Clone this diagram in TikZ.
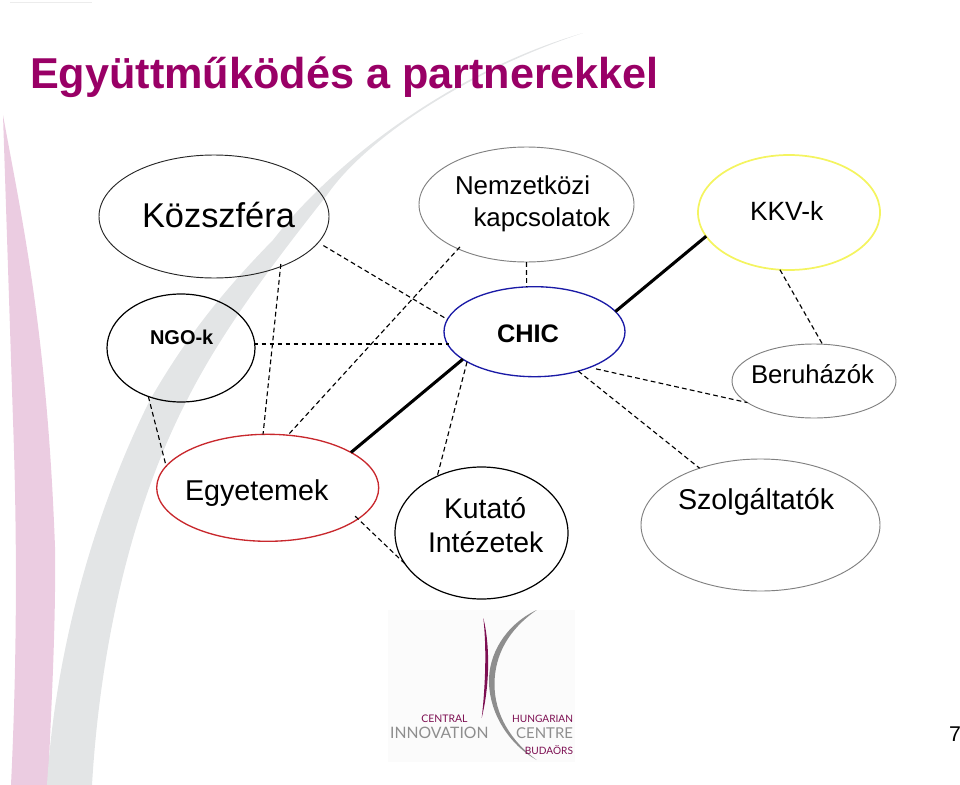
\documentclass[tikz,border=0pt]{standalone}
\usepackage{fontspec}
\setmainfont{Liberation Sans}
\newfontfamily\logofont{Lato}
\usetikzlibrary{shapes.geometric}
\definecolor{titlepurple}{HTML}{990066}
\definecolor{bandpink}{HTML}{EBCCE1}
\definecolor{bandgray}{HTML}{E3E5E6}
\definecolor{logomaroon}{HTML}{7D0F52}
\definecolor{logogray}{HTML}{8E8E8E}
\definecolor{partneryellow}{HTML}{F4F460}
\definecolor{partnerblue}{HTML}{1A1AA6}
\definecolor{partnerred}{HTML}{C8282D}
\tikzset{
  partner/.style 2 args={ellipse,draw,inner sep=0pt,outer sep=0pt,minimum width=#1*.75pt,minimum height=#2*.75pt,line width=.7pt},
  lbl/.style={anchor=base west,inner sep=0pt,outer sep=0pt},
  link/.style={dashed,dash pattern=on 3.6pt off 2.4pt,line width=.85pt},
  mainlink/.style={line width=2.3pt},
  logotxt/.style={anchor=base east,inner sep=0pt,outer sep=0pt}
}

\begin{document}
\begin{tikzpicture}[x=.75pt,y=-.75pt]
  \useasboundingbox (0,0) rectangle (960,785);

  % Background bands
  \fill[bandpink] (3,115) .. controls (22,220) and (47,330) .. (55,547)
    .. controls (56,630) and (51,710) .. (48,785) -- (11,785)
    .. controls (16,680) and (18,560) .. (13,420) -- cycle;
  \fill[bandgray] (47,785) .. controls (55,650) and (95,510) .. (150,400)
    .. controls (190,330) and (232,282) .. (273,240)
    .. controls (335,160) and (455,70) .. (583,33)
    .. controls (465,72) and (365,140) .. (327,195)
    .. controls (280,255) and (225,325) .. (187,400)
    .. controls (130,510) and (100,650) .. (92,785) -- cycle;
  \draw[gray!15,line width=.8pt] (10,2.5) -- (92,2.5);

  % Logo
  \fill[black!1.5] (388,610) rectangle (575,762);
  \fill[logomaroon] (483.3,618) .. controls (489,640) and (491,680) .. (481.7,718)
    .. controls (485,690) and (487,650) .. (483.3,618) -- cycle;
  \fill[logogray] (536.7,610) .. controls (505,625) and (488,655) .. (489,683)
    .. controls (490,715) and (510,745) .. (536.7,760)
    .. controls (512,742) and (494,715) .. (494.5,683)
    .. controls (495,655) and (508,630) .. (536.7,610) -- cycle;
  \node[logotxt,text=logomaroon] (logocentral) at (467.5,722) {\logofont\fontsize{7.85}{9}\selectfont CENTRAL};
  \node[logotxt,text=logogray] (logoinnovation) at (488.5,738) {\logofont\fontsize{11.8}{13}\selectfont INNOVATION};
  \node[logotxt,text=logomaroon] (logohungarian) at (573,722) {\logofont\fontsize{7.6}{9}\selectfont HUNGARIAN};
  \node[logotxt,text=logogray] (logocentre) at (573,738) {\logofont\fontsize{11.2}{13}\selectfont CENTRE};
  \node[logotxt,text=logomaroon] (logobudaors) at (573,754) {\logofont\fontsize{7.6}{9}\selectfont BUDAÖRS};

  % Title and page number
  \node[lbl,text=titlepurple] (title) at (30,88) {\fontsize{32.4}{36}\selectfont\bfseries Együttműködés a partnerekkel};
  \node[lbl] (pagenum) at (949,741) {\fontsize{16}{18}\selectfont 7};

  % Partners
  \node[partner={230}{123},draw=black!85] (kozszfera) at (214,216.5) {};
  \node[partner={215}{115},draw=gray] (nemzetkozi) at (526.5,204.5) {};
  \node[partner={182}{115},draw=partneryellow,line width=1.3pt] (kkv) at (789,212.5) {};
  \node[partner={148}{108},draw=black,line width=.9pt] (ngo) at (181,348) {};
  \node[partner={181}{90},draw=partnerblue,line width=1pt] (chic) at (534.5,331.7) {};
  \node[partner={164}{74},draw=gray] (beruhazok) at (814,381) {};
  \node[partner={222}{107},draw=partnerred,line width=1pt] (egyetemek) at (267.7,487.8) {};
  \node[partner={173}{132},draw=black,line width=.9pt] (kutato) at (481.5,533) {};
  \node[partner={239}{132},draw=gray] (szolgaltatok) at (760.5,525) {};

  % Labels
  \node[lbl] (kozszferatxt) at (142,227) {\fontsize{25.8}{28}\selectfont Közszféra};
  \node[lbl] (nemzetkozitxt) at (455,194) {\fontsize{19.4}{22}\selectfont Nemzetközi};
  \node[lbl] (kapcsolatoktxt) at (473.5,226) {\fontsize{19.4}{22}\selectfont kapcsolatok};
  \node[lbl] (kkvtxt) at (750,220) {\fontsize{19.8}{22}\selectfont KKV-k};
  \node[lbl] (ngotxt) at (150,344.5) {\fontsize{15}{18}\selectfont\bfseries NGO-k};
  \node[lbl] (chictxt) at (497,342) {\fontsize{19}{22}\selectfont\bfseries CHIC};
  \node[lbl] (beruhazoktxt) at (751,383) {\fontsize{19.3}{22}\selectfont Beruházók};
  \node[lbl] (egyetemektxt) at (185,500) {\fontsize{21.5}{24}\selectfont Egyetemek};
  \node[lbl] (kutatotxt) at (444,518) {\fontsize{21.3}{24}\selectfont Kutató};
  \node[lbl] (intezetektxt) at (428,552) {\fontsize{21.3}{24}\selectfont Intézetek};
  \node[lbl] (szolgaltatoktxt) at (678,509) {\fontsize{21.5}{24}\selectfont Szolgáltatók};

  % Links
  \draw[link,shorten <=4.5pt] (kozszfera.-14) -- (chic.172);
  \draw[link,shorten <=-2pt] (kozszfera.-37.5) -- (egyetemek.95);
  \draw[link,shorten <=-2pt] (nemzetkozi.-147) -- (egyetemek.69);
  \draw[link] (nemzetkozi.270) -- (chic.100.8);
  \draw[link,shorten <=-1pt,shorten >=-1.5pt] (ngo.east |- chic.188.39) -- (chic.188.39);
  \draw[link] (ngo.236.3) -- (egyetemek.168.4);
  \draw[link] (kkv.261) -- (beruhazok.77.3);
  \draw[link,shorten <=5pt] (chic.-33.8) -- (beruhazok.198.4);
  \draw[link] (chic.204.8) -- (kutato.128.5);
  \draw[link] (chic.-42.5) -- (szolgaltatok.137);
  \draw[link,shorten <=-3pt] (egyetemek.-19.9) -- (kutato.202.7);
  \draw[mainlink] (chic.14.2) -- (kkv.196.8);
  \draw[mainlink] (chic.201.3) -- (egyetemek.23.2);
\end{tikzpicture}
\end{document}
